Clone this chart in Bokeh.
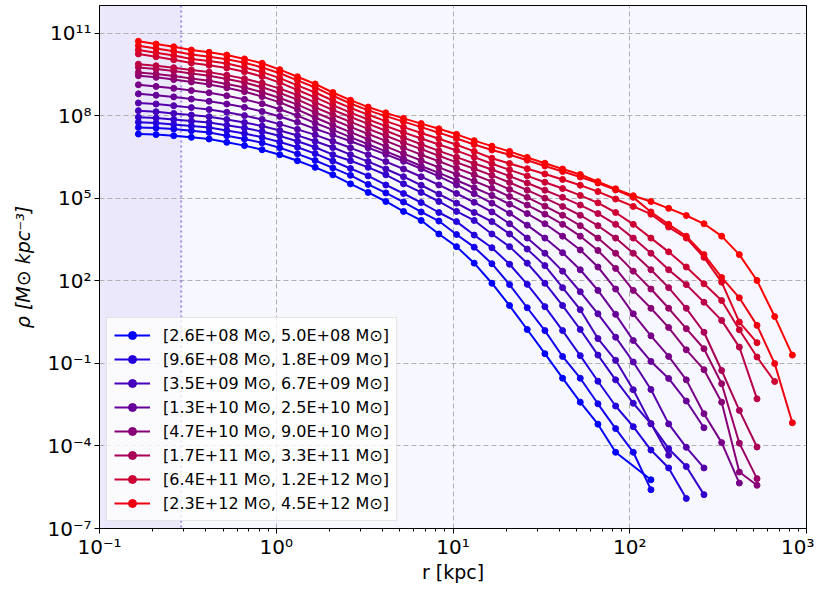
from bokeh.plotting import figure
from bokeh.models import (FixedTicker, CustomJSTickFormatter, BoxAnnotation, Span, Range1d)
from bokeh.embed import file_html
from bokeh.resources import INLINE

# radial bins [kpc]
r_kpc = [0.166, 0.209, 0.263, 0.331, 0.417, 0.525, 0.661, 0.832, 1.047, 1.318,
         1.660, 2.089, 2.630, 3.311, 4.169, 5.248, 6.607, 8.318, 10.47, 13.18,
         16.60, 20.89, 26.30, 33.11, 41.69, 52.48, 66.07, 83.18, 104.7, 131.8,
         166.0, 208.9, 263.0, 331.1, 416.9, 524.8, 660.7, 831.8]

# log10 density [Msun kpc^-3] per mass bin (None = empty radial bin)
log_rho_00 = [7.33, 7.31, 7.27, 7.21, 7.15, 7.03, 6.91, 6.76, 6.58, 6.36, 6.12, 5.85, 5.52, 5.21, 4.88, 4.52, 4.19, 3.70, 3.24, 2.64, 1.91, 1.10, 0.23, -0.65, -1.54, -2.41, -3.21, -4.23, None, -5.23]
log_rho_01 = [7.57, 7.55, 7.51, 7.45, 7.39, 7.27, 7.15, 7.01, 6.83, 6.61, 6.37, 6.10, 5.83, 5.50, 5.19, 4.86, 4.50, 4.17, 3.68, 3.22, 2.62, 1.86, 1.02, 0.19, -0.75, -1.54, -2.47, -3.37, -4.23, -5.59]
log_rho_02 = [7.76, 7.73, 7.68, 7.62, 7.57, 7.46, 7.35, 7.21, 7.04, 6.85, 6.62, 6.35, 6.08, 5.81, 5.48, 5.17, 4.84, 4.48, 4.15, 3.66, 3.20, 2.60, 1.87, 1.06, 0.19, -0.72, -1.65, -2.55, -3.30, -4.15, -4.80, -5.91]
log_rho_03 = [7.94, 7.91, 7.86, 7.80, 7.75, 7.65, 7.55, 7.42, 7.26, 7.07, 6.85, 6.58, 6.36, 6.12, 5.85, 5.52, 5.21, 4.88, 4.52, 4.19, 3.70, 3.24, 2.64, 1.91, 1.10, 0.23, -0.70, -1.60, -2.45, -3.20, -4.10, -4.75, -5.77]
log_rho_04 = [8.18, 8.14, 8.08, 8.02, 7.96, 7.86, 7.75, 7.62, 7.46, 7.28, 7.07, 6.84, 6.58, 6.33, 6.06, 5.78, 5.47, 5.15, 4.82, 4.48, 4.15, 3.70, 3.15, 2.55, 1.75, 0.95, -0.10, -0.89, -1.96, -3.19, -4.34]
log_rho_05 = [8.46, 8.42, 8.36, 8.29, 8.22, 8.12, 8.00, 7.86, 7.69, 7.50, 7.30, 7.07, 6.83, 6.58, 6.33, 6.06, 5.78, 5.48, 5.17, 4.85, 4.50, 4.07, 3.55, 3.00, 2.35, 1.60, 0.80, -0.05, -0.95, -1.95, -3.20, -4.05, -4.80]
log_rho_06 = [8.79, 8.74, 8.68, 8.60, 8.52, 8.42, 8.30, 8.15, 7.97, 7.76, 7.52, 7.30, 7.07, 6.83, 6.59, 6.34, 6.07, 5.79, 5.48, 5.16, 4.82, 4.45, 4.02, 3.55, 3.02, 2.40, 1.65, 0.78, -0.17, -0.93, -1.55, -2.37, -3.34]
log_rho_07 = [9.12, 9.06, 8.99, 8.91, 8.83, 8.72, 8.59, 8.43, 8.23, 8.00, 7.73, 7.48, 7.22, 6.96, 6.70, 6.44, 6.17, 5.92, 5.65, 5.38, 5.10, 4.78, 4.44, 4.07, 3.62, 3.12, 2.50, 1.70, 0.80, 0.00, -0.75, -1.60, -2.83, -3.88, -5.35]
log_rho_08 = [9.45, 9.39, 9.31, 9.22, 9.13, 9.01, 8.87, 8.69, 8.48, 8.22, 7.93, 7.66, 7.40, 7.14, 6.88, 6.62, 6.37, 6.12, 5.87, 5.62, 5.36, 5.06, 4.75, 4.42, 4.05, 3.62, 3.10, 2.45, 1.65, 1.00, 0.30, -0.51, -1.23, -2.41, -4.95, -5.43]
log_rho_09 = [9.57, 9.51, 9.44, 9.35, 9.27, 9.15, 9.02, 8.85, 8.64, 8.40, 8.12, 7.85, 7.59, 7.33, 7.08, 6.83, 6.58, 6.34, 6.09, 5.85, 5.60, 5.32, 5.03, 4.71, 4.38, 4.00, 3.55, 3.00, 2.35, 1.70, 1.00, 0.26, -0.47, -1.74, -3.90, -5.19]
log_rho_10 = [9.75, 9.69, 9.62, 9.53, 9.45, 9.33, 9.20, 9.03, 8.82, 8.58, 8.30, 8.03, 7.77, 7.52, 7.27, 7.02, 6.78, 6.54, 6.30, 6.07, 5.83, 5.57, 5.29, 5.00, 4.70, 4.38, 4.00, 3.55, 3.00, 2.40, 1.75, 1.00, 0.13, -1.26, -2.71, -4.04]
log_rho_11 = [9.87, 9.81, 9.74, 9.66, 9.58, 9.47, 9.34, 9.18, 8.98, 8.75, 8.48, 8.21, 7.95, 7.70, 7.45, 7.20, 6.96, 6.72, 6.49, 6.26, 6.04, 5.80, 5.55, 5.29, 5.03, 4.75, 4.44, 4.05, 3.55, 3.00, 2.40, 1.86, 1.22, 0.56, -0.41, -2.29]
log_rho_12 = [10.24, 10.14, 10.03, 9.91, 9.83, 9.73, 9.59, 9.42, 9.20, 8.93, 8.66, 8.38, 8.11, 7.86, 7.62, 7.39, 7.17, 6.95, 6.73, 6.49, 6.25, 6.03, 5.81, 5.58, 5.35, 5.10, 4.83, 4.48, 4.05, 3.55, 3.05, 2.50, 1.89, 1.28, 0.22, -0.77, -1.66]
log_rho_13 = [10.38, 10.28, 10.18, 10.06, 9.98, 9.89, 9.75, 9.58, 9.36, 9.10, 8.84, 8.55, 8.28, 8.03, 7.80, 7.58, 7.37, 7.16, 6.94, 6.70, 6.45, 6.26, 6.07, 5.88, 5.68, 5.47, 5.24, 4.97, 4.70, 4.42, 3.95, 3.55, 2.85, 1.95, 0.50, -0.25]
log_rho_14 = [10.54, 10.44, 10.34, 10.22, 10.14, 10.05, 9.92, 9.75, 9.54, 9.28, 9.02, 8.72, 8.44, 8.19, 7.98, 7.78, 7.58, 7.38, 7.17, 6.95, 6.75, 6.58, 6.38, 6.17, 5.97, 5.77, 5.55, 5.30, 5.03, 4.50, 4.05, 3.62, 2.95, 2.12, 1.38, 0.38, -1.01, -3.16]
log_rho_15 = [10.70, 10.60, 10.50, 10.38, 10.30, 10.20, 10.06, 9.90, 9.67, 9.41, 9.15, 8.84, 8.56, 8.31, 8.10, 7.90, 7.71, 7.52, 7.32, 7.09, 6.89, 6.70, 6.48, 6.27, 6.06, 5.86, 5.60, 5.34, 5.09, 4.88, 4.63, 4.37, 4.07, 3.62, 2.95, 2.01, 0.70, -0.70]

profiles = [log_rho_00, log_rho_01, log_rho_02, log_rho_03, log_rho_04, log_rho_05,
            log_rho_06, log_rho_07, log_rho_08, log_rho_09, log_rho_10, log_rho_11,
            log_rho_12, log_rho_13, log_rho_14, log_rho_15]

# legend labels (one per two mass bins)
bin_labels = [
    "[2.6E+08 M\u2299, 5.0E+08 M\u2299]",
    "[9.6E+08 M\u2299, 1.8E+09 M\u2299]",
    "[3.5E+09 M\u2299, 6.7E+09 M\u2299]",
    "[1.3E+10 M\u2299, 2.5E+10 M\u2299]",
    "[4.7E+10 M\u2299, 9.0E+10 M\u2299]",
    "[1.7E+11 M\u2299, 3.3E+11 M\u2299]",
    "[6.4E+11 M\u2299, 1.2E+12 M\u2299]",
    "[2.3E+12 M\u2299, 4.5E+12 M\u2299]",
]

x_ticks = [0.1, 1, 10, 100, 1000]
y_ticks = [1e-7, 1e-4, 1e-1, 1e2, 1e5, 1e8, 1e11]
resolution_limit = 0.29
x_label_text = "r [kpc]"
y_label_text = "\u03c1 [M\u2299 kpc\u207b\u00b3]"

FONT = "DejaVu Sans"

p = figure(width=814, height=585, x_axis_type="log", y_axis_type="log", title=None,
           x_range=Range1d(0.1, 1000), y_range=Range1d(1e-7, 1e12),
           output_backend="svg", toolbar_location=None,
           min_border_left=99, min_border_right=8, min_border_top=5, min_border_bottom=57)

p.background_fill_color = "#f7f8ff"
p.border_fill_color = "white"
p.outline_line_color = "black"
p.outline_line_width = 1

minor = [m * d for d in [0.1, 1, 10, 100] for m in range(2, 10)]
p.xaxis.ticker = FixedTicker(ticks=x_ticks, minor_ticks=minor)
p.yaxis.ticker = FixedTicker(ticks=y_ticks, minor_ticks=[])

fmt_code = """
const e = Math.round(Math.log10(tick));
const sup = {'-':'\u207b','0':'\u2070','1':'\u00b9','2':'\u00b2','3':'\u00b3','4':'\u2074','5':'\u2075','6':'\u2076','7':'\u2077','8':'\u2078','9':'\u2079'};
return '10' + String(e).split('').map(c => sup[c]).join('');
"""
p.xaxis.formatter = CustomJSTickFormatter(code=fmt_code)
p.yaxis.formatter = CustomJSTickFormatter(code=fmt_code)

for ax in (p.xaxis, p.yaxis):
    ax.axis_line_color = "black"
    ax.major_tick_line_color = "black"
    ax.minor_tick_line_color = "black"
    ax.major_tick_in = 0
    ax.major_tick_out = 5
    ax.minor_tick_in = 0
    ax.minor_tick_out = 3
    ax.major_label_text_font = FONT
    ax.major_label_text_font_size = "20px"
    ax.major_label_text_color = "black"
    ax.axis_label_text_font = FONT
    ax.axis_label_text_font_size = "19px"
    ax.axis_label_text_color = "black"

p.xaxis.axis_label = x_label_text
p.xaxis.axis_label_text_font_style = "normal"
p.xaxis.major_label_standoff = 1
p.xaxis.axis_label_standoff = -1
p.yaxis.axis_label = y_label_text
p.yaxis.major_label_standoff = 3
p.yaxis.axis_label_text_font_style = "italic"
p.yaxis.axis_label_standoff = 10

for g in (p.xgrid, p.ygrid):
    g.grid_line_color = "#b0b0b0"
    g.grid_line_dash = "5 3"
    g.grid_line_width = 1

shade = BoxAnnotation(right=resolution_limit, fill_color="#9370db", fill_alpha=0.11,
                      line_alpha=0, level="image")
p.add_layout(shade)
p.add_layout(Span(location=resolution_limit, dimension="height", line_color="#9370db",
                  line_dash="2 3", line_width=2, line_alpha=0.8, level="underlay"))

n = len(profiles)
for i, prof in enumerate(profiles):
    t = i / (n - 1)
    color = "#%02x00%02x" % (round(255 * t), round(255 * (1 - t)))
    xs = [r for r, v in zip(r_kpc, prof) if v is not None]
    ys = [10 ** v for v in prof if v is not None]
    kw = {}
    if i % 2 == 0:
        kw["legend_label"] = bin_labels[i // 2]
    p.line(xs, ys, line_color=color, line_width=2, **kw)
    p.scatter(xs, ys, size=6, fill_color=color, line_color=color, **kw)

lg = p.legend[0]
lg.location = "bottom_left"
lg.margin = 7
lg.padding = 7
lg.spacing = 4
lg.label_height = 20
lg.glyph_height = 20
lg.glyph_width = 36
lg.label_standoff = 13
lg.label_text_font = FONT
lg.label_text_font_size = "16px"
lg.label_text_color = "black"
lg.background_fill_color = "white"
lg.background_fill_alpha = 0.8
lg.border_line_color = "#cccccc"
lg.border_line_width = 1

open("out.html", "w").write(file_html(p, INLINE))
